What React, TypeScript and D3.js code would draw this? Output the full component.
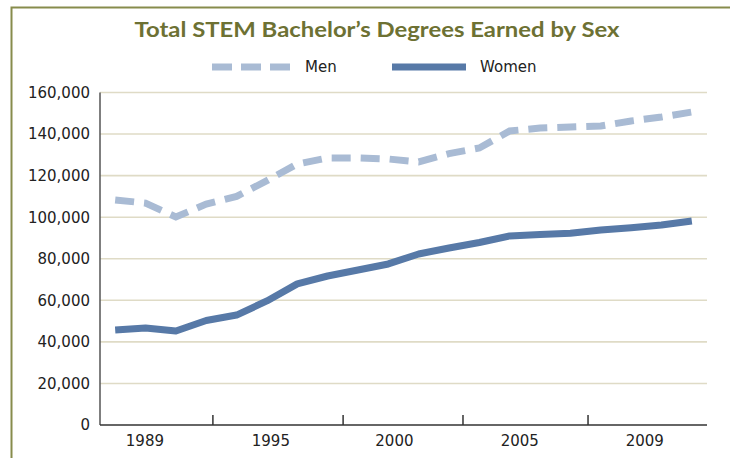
import React from "react";
import * as d3 from "d3";

const pointIndex = d3.range(20);
const menValues = [108300, 106800, 100100, 106300, 110000, 117600, 125600, 128500, 128500, 128000, 126600, 130600, 133300, 141500, 142900, 143400, 143900, 146300, 148200, 150600];
const womenValues = [45700, 46700, 45200, 50300, 52900, 59700, 67900, 71700, 74600, 77500, 82300, 85200, 87800, 91000, 91700, 92300, 93800, 94900, 96200, 98200];
const yTicks = [0, 20000, 40000, 60000, 80000, 100000, 120000, 140000, 160000];
const xLabels = ["1989", "1995", "2000", "2005", "2009"];
const xLabelPos = [0.98, 5.13, 9.2, 13.33, 17.45];
const xTickPos = [3.22, 7.51, 11.46, 15.58];
const title = "Total STEM Bachelor\u2019s Degrees Earned by Sex";
const seriesNames = ["Men", "Women"];

export default function App() {
  const W = 730, H = 458;
  const left = 100, right = 707, top = 92.5, bottom = 425;
  const x = d3.scaleLinear().domain([-0.5, 19.5]).range([left, right]);
  const y = d3.scaleLinear().domain([0, 160000]).range([bottom, top]);
  const line = d3.line<number>().x((_, i) => x(pointIndex[i])).y((d) => y(d));
  const fmt = d3.format(",");
  const menColor = "#a9bbd4";
  const womenColor = "#5779a7";
  const font = "'DejaVu Sans', Verdana, sans-serif";

  return (
    <svg width={W} height={H} style={{ position: "absolute", left: 0, top: 0, display: "block", background: "#fff" }}>
      <rect x={11.5} y={7.5} width={W + 10} height={H + 10} fill="none" stroke="#878c4c" strokeWidth={2} />
      <text x={377} y={37} textAnchor="middle" fontFamily="Lato, 'Open Sans', sans-serif" fontWeight="bold" fontSize={21} fill="#6d7133" textLength={485} lengthAdjust="spacingAndGlyphs">{title}</text>

      {/* legend */}
      <line x1={212} x2={290} y1={67} y2={67} stroke={menColor} strokeWidth={7} strokeDasharray="20 9" />
      <text x={305} y={67} dy="0.35em" fontFamily={font} fontSize={15} fill="#222">{seriesNames[0]}</text>
      <line x1={392} x2={466} y1={67} y2={67} stroke={womenColor} strokeWidth={7} />
      <text x={480} y={67} dy="0.35em" fontFamily={font} fontSize={15} fill="#222">{seriesNames[1]}</text>

      {/* gridlines and y labels */}
      {yTicks.map((t) => (
        <g key={t}>
          {t > 0 && <line x1={left} x2={right} y1={y(t)} y2={y(t)} stroke="#dfdbc6" strokeWidth={1.6} />}
          <text x={90} y={y(t)} dy="0.36em" textAnchor="end" fontFamily={font} fontSize={15} fill="#222">{fmt(t)}</text>
        </g>
      ))}

      {/* axes */}
      <line x1={left} x2={left} y1={top} y2={bottom} stroke="#555" strokeWidth={1.5} />
      <line x1={left} x2={right} y1={bottom} y2={bottom} stroke="#333" strokeWidth={1.5} />
      {xTickPos.map((p, i) => (
        <line key={i} x1={x(p)} x2={x(p)} y1={bottom} y2={bottom - 10} stroke="#333" strokeWidth={1.5} />
      ))}
      {xLabels.map((l, i) => (
        <text key={l} x={x(xLabelPos[i])} y={446} textAnchor="middle" fontFamily={font} fontSize={15} fill="#222">{l}</text>
      ))}

      {/* series */}
      <path d={line(menValues) || ""} fill="none" stroke={menColor} strokeWidth={7} strokeDasharray="19 10" />
      <path d={line(womenValues) || ""} fill="none" stroke={womenColor} strokeWidth={7} strokeLinejoin="round" />
    </svg>
  );
}
